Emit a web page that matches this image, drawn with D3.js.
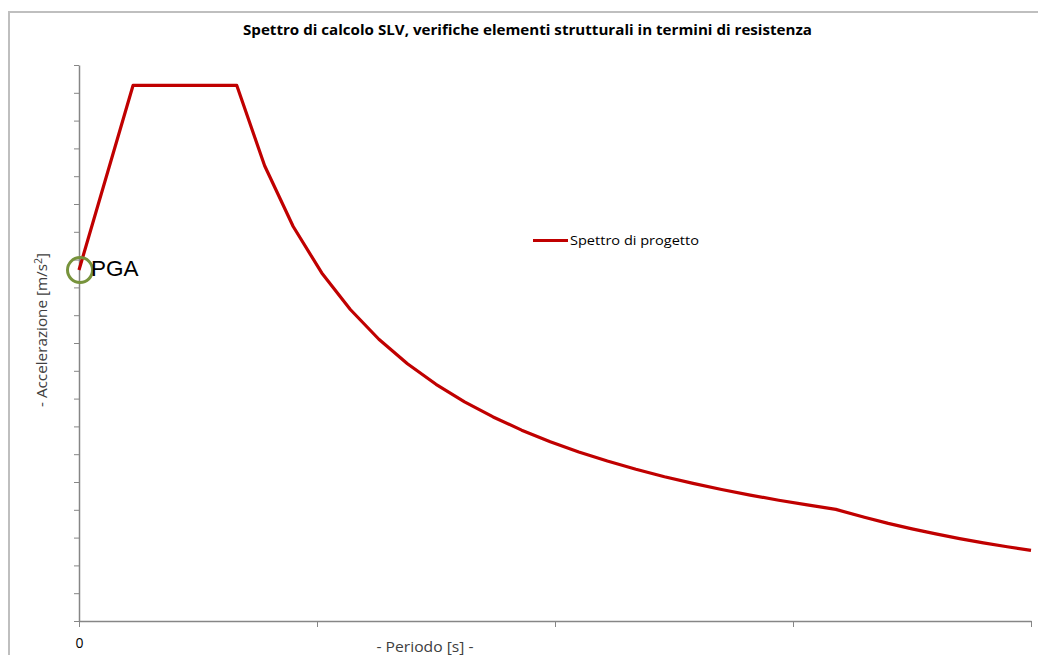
<!DOCTYPE html>
<html><head><meta charset="utf-8">
<script src="https://cdn.jsdelivr.net/npm/d3@7"></script>
<style>
html,body{margin:0;padding:0;background:#fff;}
svg{display:block;}
</style>
</head><body>
<svg id="chart" width="1038" height="655"></svg>
<script>
// Data : period T [s], design spectral acceleration Sd [m/s²]
const periods = [0, 0.227, 0.663, 0.78, 0.90, 1.02, 1.14, 1.26, 1.38, 1.50, 1.62, 1.74, 1.86, 1.98, 2.10, 2.22, 2.34, 2.46, 2.58, 2.70, 2.82, 2.94, 3.06, 3.18, 3.30, 3.40, 3.50, 3.60, 3.70, 3.80, 3.90, 4.00];
const accel   = [2.525, 3.853, 3.853, 3.275, 2.838, 2.504, 2.241, 2.027, 1.851, 1.703, 1.577, 1.468, 1.373, 1.290, 1.216, 1.151, 1.092, 1.038, 0.990, 0.946, 0.906, 0.869, 0.835, 0.803, 0.746, 0.702, 0.663, 0.627, 0.593, 0.562, 0.534, 0.508];
const pga = [0, 2.525];
const xTickValues = [0, 1, 2, 3, 4];
const xTickLabels = ["0", "", "", "", ""];
const yTickValues = d3.range(0, 21).map(i => i * 0.2);
const titleText = "Spettro di calcolo SLV, verifiche elementi strutturali in termini di resistenza";
const seriesName = "Spettro di progetto";
const xLabel = "- Periodo [s] -";

const svg = d3.select("#chart");
const mLeft = 79, mRight = 1031, mTop = 65, mBottom = 621;

const x = d3.scaleLinear().domain([0, 4]).range([mLeft, mRight]);
const y = d3.scaleLinear().domain([0, 4]).range([mBottom, mTop]);

// outer frame (chart area border)
svg.append("path").attr("d", `M9,660 L9,12 L1040,12`).attr("fill","none")
  .attr("stroke","#bfbfbf").attr("stroke-width",2);

// title
svg.append("text").attr("x", 527.5).attr("y", 35).attr("text-anchor","middle")
  .attr("font-family","'Open Sans', 'Liberation Sans', sans-serif").attr("font-weight","bold")
  .attr("font-size", 14).attr("fill","#000")
  .attr("textLength", 569).attr("lengthAdjust","spacingAndGlyphs")
  .text(titleText);

// axes
const axisColor = "#868686";
const xAxis = d3.axisBottom(x).tickValues(xTickValues).tickSize(6).tickSizeOuter(0)
  .tickFormat((d,i) => xTickLabels[i]);
const gx = svg.append("g").attr("transform", `translate(0,${mBottom})`).call(xAxis);
gx.select(".domain").attr("stroke", axisColor).attr("stroke-width", 1.5);
gx.selectAll(".tick line").attr("stroke", axisColor).attr("stroke-width", 1);
gx.selectAll(".tick text").attr("font-family","'Open Sans', sans-serif").attr("font-size", 14)
  .attr("fill","#000").attr("dy", "0").attr("y", 27);

const yAxis = d3.axisLeft(y).tickValues(yTickValues).tickSize(5).tickSizeOuter(0).tickFormat("");
const gy = svg.append("g").attr("transform", `translate(${mLeft},0)`).call(yAxis);
gy.select(".domain").attr("stroke", axisColor).attr("stroke-width", 1.5);
gy.selectAll(".tick line").attr("stroke", axisColor).attr("stroke-width", 1);

// axis titles
const yl = svg.append("text").attr("transform", `translate(47,330) rotate(-90)`)
  .attr("text-anchor","middle").attr("font-family","'Open Sans', sans-serif")
  .attr("font-size", 14.5).attr("fill","#404040")
  .attr("textLength", 154).attr("lengthAdjust","spacingAndGlyphs");
yl.append("tspan").text("- Accelerazione [m/s");
yl.append("tspan").attr("dy", -5).attr("font-size", 10).text("2");
yl.append("tspan").attr("dy", 5).text("]");

svg.append("text").attr("x", 425).attr("y", 652).attr("text-anchor","middle")
  .attr("font-family","'Open Sans', sans-serif").attr("font-size", 14.5).attr("fill","#404040")
  .attr("textLength", 97).attr("lengthAdjust","spacingAndGlyphs")
  .text(xLabel);

// spectrum line
const line = d3.line().x((d,i) => x(periods[i])).y(d => y(d));
svg.append("path").datum(accel).attr("d", line).attr("fill","none")
  .attr("stroke","#c00000").attr("stroke-width", 3.2).attr("stroke-linejoin","round");

// legend
svg.append("line").attr("x1", 533).attr("x2", 568).attr("y1", 240.5).attr("y2", 240.5)
  .attr("stroke","#c00000").attr("stroke-width", 3.2);
svg.append("text").attr("x", 570).attr("y", 245).attr("font-family","'Open Sans', sans-serif")
  .attr("font-size", 13.5).attr("fill","#000")
  .attr("textLength", 129).attr("lengthAdjust","spacingAndGlyphs")
  .text(seriesName);

// PGA marker
svg.append("circle").attr("cx", x(pga[0]) + 1).attr("cy", y(pga[1])).attr("r", 12.5)
  .attr("fill","none").attr("stroke","#77933c").attr("stroke-width", 3);
svg.append("text").attr("x", 91).attr("y", 275.5)
  .attr("font-family","'Liberation Sans', Arial, sans-serif").attr("font-size", 22.5).attr("fill","#000")
  .text("PGA");
</script>
</body></html>
